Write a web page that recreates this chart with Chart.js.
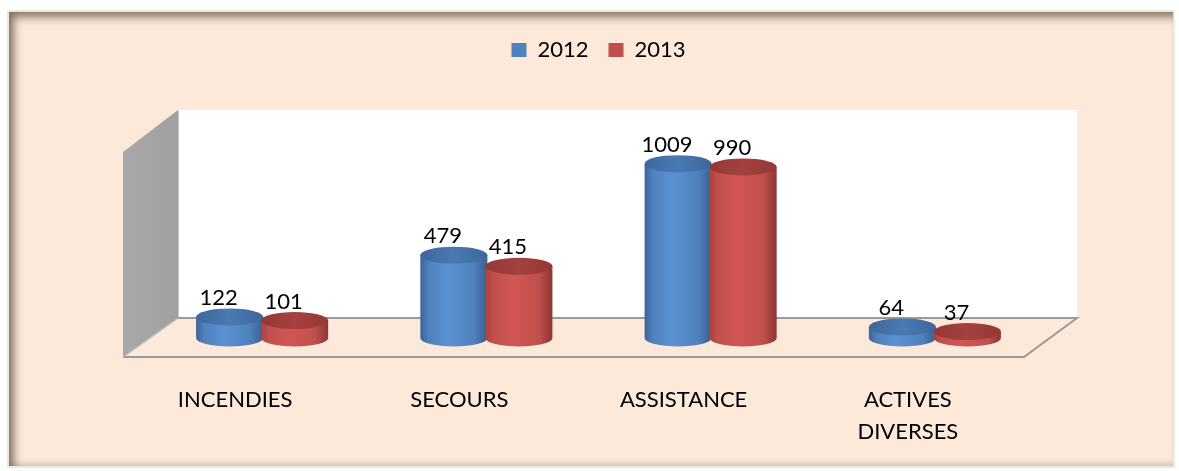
<!DOCTYPE html>
<html>
<head>
<meta charset="utf-8">
<script src="https://cdn.jsdelivr.net/npm/chart.js@4/dist/chart.umd.min.js"></script>
<style>
  html, body { margin:0; padding:0; background:#ffffff; }
  #wrap { position:relative; width:1179px; height:471px; overflow:hidden; }
  #frame {
    position:absolute; left:7px; top:10px; width:1168px; height:458px; box-sizing:border-box;
    background:#FDE9D9; border:2px solid #ECEAE0;
    box-shadow: inset 7px 7px 9px -2px rgba(70,55,40,0.65), inset 0 -5px 6px -3px rgba(70,55,40,0.25);
  }
  #c { position:absolute; left:0; top:0; }
</style>
</head>
<body>
<div id="wrap">
  <div id="frame"></div>
  <canvas id="c" width="1179" height="471"></canvas>
</div>
<script>
const categories = ['INCENDIES', 'SECOURS', 'ASSISTANCE', ['ACTIVES', 'DIVERSES']];
const seriesNames = ['2012', '2013'];
const values2012 = [122, 479, 1009, 64];
const values2013 = [101, 415, 990, 37];

const FONT = 'Lato, "Open Sans", sans-serif';
const palette = [
  { base:'#4F81BD', edge:'#3B659A', light:'#5B91D3', dark:'#3A5F8F', top1:'#3C679B', top2:'#4A7AB4' },
  { base:'#C0504D', edge:'#A9423F', light:'#D25654', dark:'#8E3532', top1:'#943836', top2:'#A5413E' }
];

const framePlugin = {
  id:'frame3d',
  beforeDatasetsDraw(chart) {
    const {ctx, chartArea:a} = chart;
    const L = a.left, R = a.right, B = a.bottom;
    const bwL = L + 28, bwR = R + 30, bwT = B - 228, bwB = B - 20;
    const fL = L - 27, fR = R - 23, fB = B + 19;
    ctx.save();
    ctx.fillStyle = '#FFFFFF';
    ctx.fillRect(bwL, bwT, bwR - bwL, bwB - bwT);
    const lg = ctx.createLinearGradient(fL, 0, bwL, 0);
    lg.addColorStop(0, '#A9A9A9'); lg.addColorStop(1, '#A0A0A0');
    ctx.fillStyle = lg;
    ctx.beginPath();
    ctx.moveTo(fL, bwT + 42); ctx.lineTo(bwL, bwT); ctx.lineTo(bwL, bwB); ctx.lineTo(fL, fB); ctx.closePath();
    ctx.fill();
    ctx.strokeStyle = '#C8C8C8'; ctx.lineWidth = 1;
    ctx.beginPath(); ctx.moveTo(bwL + 0.5, bwT); ctx.lineTo(bwL + 0.5, bwB); ctx.stroke();
    ctx.fillStyle = '#FDE9D9';
    ctx.beginPath();
    ctx.moveTo(fL, fB); ctx.lineTo(fR, fB); ctx.lineTo(bwR, bwB); ctx.lineTo(bwL, bwB); ctx.closePath();
    ctx.fill();
    ctx.strokeStyle = '#9A9A9A'; ctx.lineWidth = 2;
    ctx.beginPath();
    ctx.moveTo(fL, fB); ctx.lineTo(fR, fB); ctx.lineTo(bwR, bwB); ctx.lineTo(bwL, bwB);
    ctx.stroke();
    ctx.strokeStyle = '#B8B8B8'; ctx.lineWidth = 1.5;
    ctx.beginPath(); ctx.moveTo(bwL, bwB); ctx.lineTo(fL, fB); ctx.stroke();
    ctx.restore();
  },
  beforeDatasetDraw() { return false; },
  afterDatasetsDraw(chart) {
    const {ctx} = chart;
    const ry = 8.5;
    ctx.save();
    chart.data.datasets.forEach((ds, di) => {
      const c = palette[di];
      chart.getDatasetMeta(di).data.forEach(el => {
        const cx = el.x, top = el.y, base = el.base, rx = el.width / 2 + 1;
        const g = ctx.createLinearGradient(cx - rx, 0, cx + rx, 0);
        g.addColorStop(0, c.edge); g.addColorStop(0.12, c.base); g.addColorStop(0.42, c.light);
        g.addColorStop(0.8, c.base); g.addColorStop(1, c.dark);
        ctx.fillStyle = g;
        ctx.beginPath();
        ctx.moveTo(cx - rx, top);
        ctx.lineTo(cx - rx, base);
        ctx.ellipse(cx, base, rx, ry, 0, Math.PI, 0, true);
        ctx.lineTo(cx + rx, top);
        ctx.closePath();
        ctx.fill();
        const tg = ctx.createLinearGradient(cx - rx, 0, cx + rx, 0);
        tg.addColorStop(0, c.top1); tg.addColorStop(0.5, c.top2); tg.addColorStop(1, c.top1);
        ctx.fillStyle = tg;
        ctx.beginPath();
        ctx.ellipse(cx, top, rx, ry, 0, 0, Math.PI * 2);
        ctx.fill();
      });
    });
    ctx.fillStyle = '#000';
    ctx.font = '22px ' + FONT;
    ctx.textAlign = 'center';
    ctx.textBaseline = 'alphabetic';
    chart.data.datasets.forEach((ds, di) => {
      chart.getDatasetMeta(di).data.forEach((el, i) => {
        ctx.fillText(String(ds.data[i]), el.x - 11, el.y - 12);
      });
    });
    ctx.restore();
  }
};

new Chart(document.getElementById('c'), {
  type:'bar',
  data:{
    labels: categories,
    datasets:[
      { label: seriesNames[0], data: values2012, backgroundColor: palette[0].base },
      { label: seriesNames[1], data: values2013, backgroundColor: palette[1].base }
    ]
  },
  options:{
    responsive:false,
    animation:false,
    events:[],
    layout:{ padding:{ left:150, right:132, top:19, bottom:5 } },
    datasets:{ bar:{ categoryPercentage:0.58, barPercentage:1.0 } },
    plugins:{
      legend:{
        position:'top',
        labels:{ boxWidth:15, boxHeight:14, padding:20, color:'#000', font:{ family:FONT, size:22 } }
      },
      tooltip:{ enabled:false }
    },
    scales:{
      x:{
        grid:{ display:false, drawTicks:false },
        border:{ display:false },
        ticks:{ color:'#000', padding:46, labelOffset:-27, maxRotation:0, autoSkip:false,
                font:{ family:FONT, size:22, lineHeight:1.45 } },
        afterFit(s){ s.height = 128; }
      },
      y:{ display:false, min:0, max:1545 }
    }
  },
  plugins:[framePlugin]
});
</script>
</body>
</html>
